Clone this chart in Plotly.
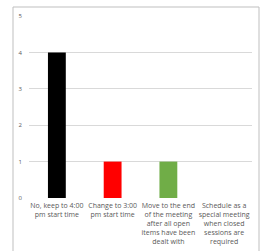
import plotly.graph_objects as go

categories = ["No, keep to 4:00<br>pm start time",
              "Change to 3:00<br>pm start time",
              "Move to the end<br>of the meeting<br>after all open<br>items have been<br>dealt with",
              "Schedule as a<br>special meeting<br>when closed<br>sessions are<br>required"]
values = [4, 1, 1, 0]
colors = ["#000000", "#FF0000", "#70AD47", "#4472C4"]
y_ticks = [0, 1, 2, 3, 4, 5]

L, R, T, B = 29, 15, 16, 53
W, H = 267, 251
pw, ph = W - L - R, H - T - B

fig = go.Figure(go.Bar(x=categories, y=values, marker_color=colors, width=0.32,
                       marker_line_width=0, hoverinfo="skip"))
fig.update_layout(
    width=W, height=H, margin=dict(l=L, r=R, t=T, b=B, autoexpand=False),
    paper_bgcolor="white", plot_bgcolor="white", showlegend=False,
    font=dict(family="Open Sans", size=7, color="#595959"),
)
fig.update_xaxes(tickfont=dict(size=7, color="#595959"), showline=False,
                 ticks="", tickangle=0, automargin=False, ticklabelstandoff=2)
fig.update_yaxes(range=[0, 5], tickvals=y_ticks, showgrid=True, gridcolor="#D9D9D9",
                 gridwidth=1, zeroline=False, ticks="", ticklen=0, automargin=False,
                 ticklabelstandoff=6, tickfont=dict(size=6, color="#595959"))
fig.add_shape(type="rect", xref="paper", yref="paper",
              x0=(13 - L) / pw, x1=(259 - L) / pw,
              y0=(H - B - 260) / ph, y1=(H - B - 7) / ph,
              line=dict(color="#BFBFBF", width=1), fillcolor="rgba(0,0,0,0)")
fig.write_html("out.html", config={"displayModeBar": False},
               post_script="document.body.style.margin='0px';document.body.style.overflow='hidden';")
